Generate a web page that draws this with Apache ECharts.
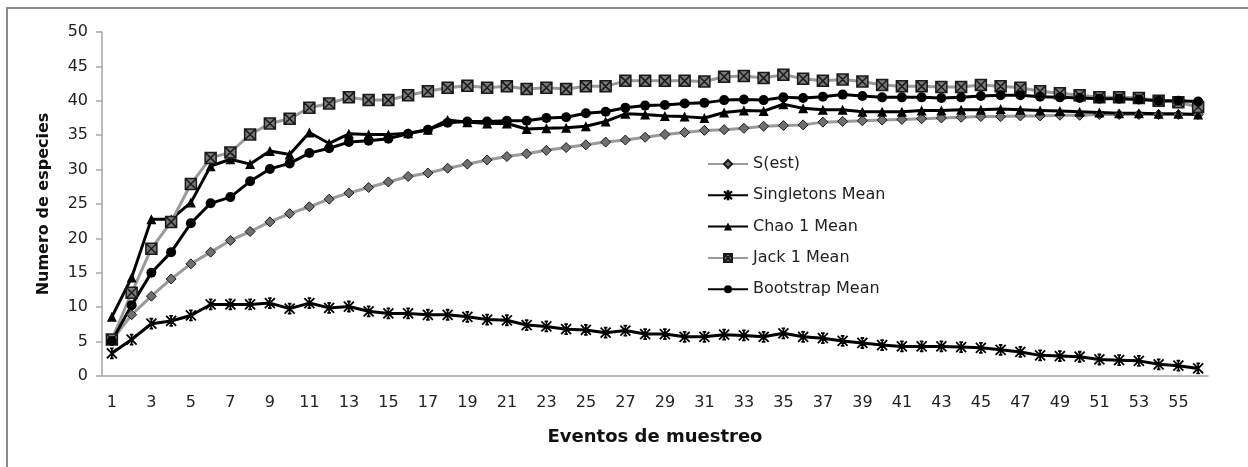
<!DOCTYPE html>
<html>
<head>
<meta charset="utf-8">
<script src="https://cdn.jsdelivr.net/npm/echarts@6/dist/echarts.min.js"></script>
<style>
html,body{margin:0;padding:0;background:#fff;}
#chart{width:1248px;height:467px;}
</style>
</head>
<body>
<div id="chart"></div>
<script>
const categories = [];
for (let i = 1; i <= 56; i++) categories.push(String(i));

const sEst = [5.2, 8.9, 11.6, 14.1, 16.3, 18.0, 19.7, 21.0, 22.4, 23.6, 24.6, 25.7, 26.6, 27.4, 28.2, 29.0, 29.5, 30.2, 30.8, 31.4,
  31.9, 32.3, 32.8, 33.2, 33.6, 34.0, 34.3, 34.7, 35.1, 35.4, 35.7, 35.8, 36.0, 36.3, 36.4, 36.5, 36.9, 37.0, 37.1, 37.2,
  37.3, 37.4, 37.5, 37.6, 37.7, 37.7, 37.8, 37.8, 37.9, 37.9, 38.0, 38.0, 38.0, 38.0, 38.0, 38.0];

const singletons = [3.3, 5.3, 7.6, 8.0, 8.8, 10.4, 10.4, 10.4, 10.6, 9.8, 10.6, 9.9, 10.1, 9.4, 9.1, 9.1, 8.9, 8.9, 8.6, 8.2,
  8.1, 7.4, 7.2, 6.8, 6.7, 6.3, 6.6, 6.1, 6.1, 5.7, 5.7, 6.0, 5.9, 5.7, 6.2, 5.7, 5.5, 5.1, 4.8, 4.5,
  4.3, 4.3, 4.3, 4.2, 4.1, 3.8, 3.5, 3.0, 2.9, 2.8, 2.4, 2.3, 2.2, 1.7, 1.5, 1.1];

const chao1 = [8.6, 14.3, 22.8, 22.8, 25.2, 30.5, 31.5, 30.8, 32.7, 32.2, 35.4, 33.8, 35.2, 35.1, 35.1, 35.3, 35.8, 37.2, 36.9, 36.7,
  36.7, 35.9, 36.0, 36.1, 36.3, 37.0, 38.1, 38.0, 37.8, 37.7, 37.5, 38.3, 38.6, 38.5, 39.5, 38.9, 38.7, 38.7, 38.4, 38.4,
  38.4, 38.6, 38.6, 38.7, 38.7, 38.8, 38.7, 38.6, 38.5, 38.4, 38.3, 38.2, 38.2, 38.1, 38.1, 38.0];

const jack1 = [5.3, 12.1, 18.5, 22.4, 27.9, 31.7, 32.5, 35.1, 36.7, 37.4, 39.0, 39.6, 40.5, 40.1, 40.1, 40.8, 41.4, 41.9, 42.2, 41.9,
  42.1, 41.7, 41.9, 41.7, 42.1, 42.1, 42.9, 42.9, 42.9, 42.9, 42.8, 43.5, 43.6, 43.3, 43.8, 43.2, 42.9, 43.1, 42.8, 42.3,
  42.1, 42.1, 42.0, 42.0, 42.3, 42.1, 41.9, 41.4, 41.1, 40.8, 40.5, 40.5, 40.4, 40.0, 39.8, 39.1];

const bootstrap = [5.1, 10.3, 15.0, 18.0, 22.2, 25.1, 26.0, 28.3, 30.1, 30.9, 32.4, 33.1, 34.0, 34.2, 34.5, 35.2, 35.8, 36.8, 37.0, 37.0,
  37.1, 37.1, 37.5, 37.6, 38.2, 38.4, 39.0, 39.3, 39.4, 39.6, 39.7, 40.1, 40.2, 40.1, 40.5, 40.4, 40.6, 40.9, 40.7, 40.5,
  40.5, 40.5, 40.4, 40.5, 40.7, 40.8, 40.8, 40.6, 40.5, 40.4, 40.3, 40.3, 40.2, 40.0, 40.0, 39.9];

const seriesNames = ['S(est)', 'Singletons Mean', 'Chao 1 Mean', 'Jack 1 Mean', 'Bootstrap Mean'];
const yTicks = [0, 5, 10, 15, 20, 25, 30, 35, 40, 45, 50];

const FONT = '"DejaVu Sans", "Open Sans", sans-serif';
const GRAY = '#9a9a9a';
const BLACK = '#000000';

const starPath = 'path://M0,0 L10,10 M10,0 L0,10 M5,0 L5,10 M3.2,0 L6.8,0 M3.2,10 L6.8,10';
const boxXPath = 'path://M0,0 L10,0 L10,10 L0,10 Z M0,0 L10,10 M10,0 L0,10';

const chart = echarts.init(document.getElementById('chart'), null, {renderer: 'canvas'});

const option = {
  backgroundColor: '#ffffff',
  animation: false,
  graphic: [{
    type: 'rect',
    shape: {x: 7, y: 8, width: 1260, height: 480},
    style: {fill: 'none', stroke: '#8a8a8a', lineWidth: 2},
    silent: true
  }],
  grid: {left: 102, right: 40, top: 32, bottom: 91, containLabel: false},
  legend: {
    orient: 'vertical',
    left: 702,
    top: 151,
    itemWidth: 40,
    itemHeight: 10,
    itemGap: 15.3,
    textStyle: {fontFamily: FONT, fontSize: 16, color: '#222'},
    data: seriesNames
  },
  xAxis: {
    type: 'category',
    data: categories,
    boundaryGap: true,
    name: 'Eventos de muestreo',
    nameLocation: 'middle',
    nameGap: 52,
    nameTextStyle: {fontFamily: FONT, fontSize: 18, fontWeight: 'bold', color: '#111'},
    axisLine: {lineStyle: {color: '#a6a6a6', width: 1.5}},
    axisTick: {show: false},
    axisLabel: {interval: 1, margin: 19, fontFamily: FONT, fontSize: 16, color: '#222'},
    splitLine: {show: false}
  },
  yAxis: {
    type: 'value',
    min: yTicks[0],
    max: yTicks[yTicks.length - 1],
    interval: yTicks[1] - yTicks[0],
    name: 'Numero de especies',
    nameLocation: 'middle',
    nameGap: 50,
    nameTextStyle: {fontFamily: FONT, fontSize: 16, fontWeight: 'bold', color: '#111'},
    axisLine: {show: true, lineStyle: {color: '#a6a6a6', width: 1.5}},
    axisTick: {show: true, length: 6, lineStyle: {color: '#a6a6a6', width: 1.5}},
    axisLabel: {margin: 14, fontFamily: FONT, fontSize: 16, color: '#222'},
    splitLine: {show: false}
  },
  series: [
    {
      name: seriesNames[0], type: 'line', data: sEst,
      symbol: 'diamond', symbolSize: 10,
      lineStyle: {color: GRAY, width: 3},
      itemStyle: {color: '#707070', borderColor: '#1a1a1a', borderWidth: 1}
    },
    {
      name: seriesNames[1], type: 'line', data: singletons,
      symbol: starPath, symbolSize: 10,
      lineStyle: {color: BLACK, width: 3},
      itemStyle: {color: 'none', borderColor: BLACK, borderWidth: 1.8}
    },
    {
      name: seriesNames[2], type: 'line', data: chao1,
      symbol: 'triangle', symbolSize: 10,
      lineStyle: {color: BLACK, width: 3},
      itemStyle: {color: BLACK, borderColor: BLACK, borderWidth: 0}
    },
    {
      name: seriesNames[3], type: 'line', data: jack1,
      symbol: boxXPath, symbolSize: 11,
      lineStyle: {color: GRAY, width: 3},
      itemStyle: {color: '#7a7a7a', borderColor: '#1a1a1a', borderWidth: 1.5}
    },
    {
      name: seriesNames[4], type: 'line', data: bootstrap,
      symbol: 'circle', symbolSize: 10,
      lineStyle: {color: BLACK, width: 3},
      itemStyle: {color: BLACK, borderColor: BLACK, borderWidth: 0}
    }
  ]
};
chart.setOption(option);
</script>
</body>
</html>
